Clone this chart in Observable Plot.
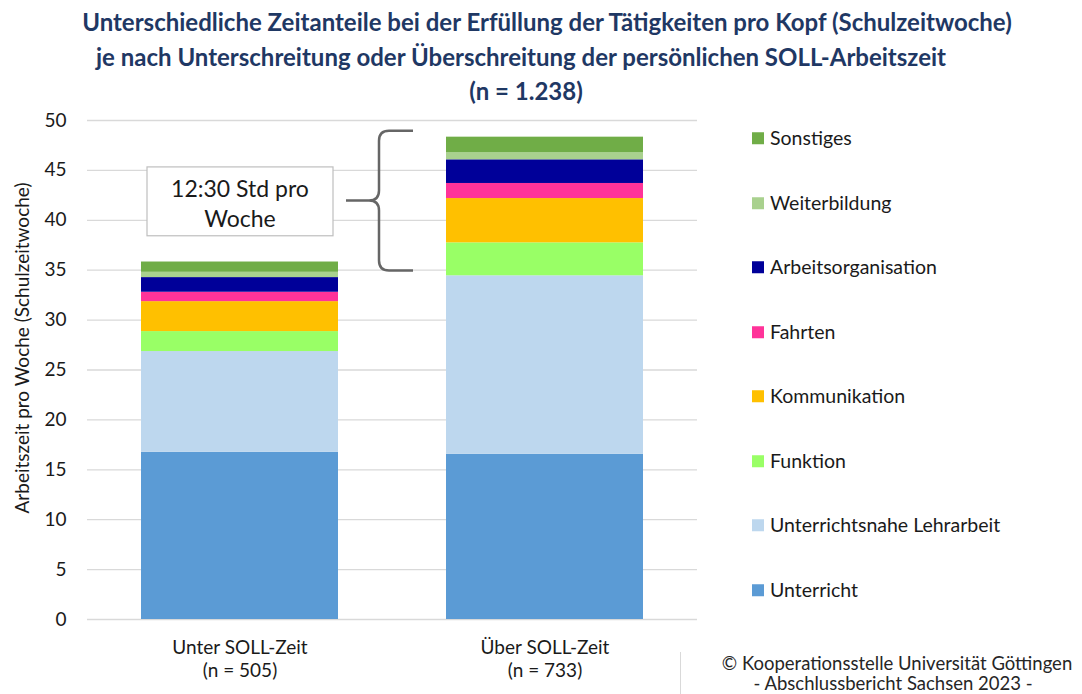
<!DOCTYPE html>
<html>
<head>
<meta charset="utf-8">
<script src="https://cdn.jsdelivr.net/npm/d3@7"></script>
<script src="https://cdn.jsdelivr.net/npm/@observablehq/plot@0.6"></script>
<style>
  html, body { margin: 0; padding: 0; background: #fff; }
  #root { position: relative; width: 1082px; height: 694px; overflow: hidden; font-family: Lato, "Open Sans", sans-serif; color: #1a1a1a; }
  .title { position: absolute; width: 1082px; text-align: center; font-weight: 700; font-size: 24px; color: #1F3864; white-space: nowrap; line-height: 1; }
  #chart { position: absolute; left: 0; top: 108px; }
  .leg { position: absolute; left: 752px; font-size: 19.5px; white-space: nowrap; display: flex; align-items: center; transform: translateY(-50%); line-height: 1; }
  .leg span.sw { display: inline-block; width: 12px; height: 12px; margin-right: 6px; }
  #ylab { position: absolute; left: 21px; top: 348px; transform: translate(-50%, -50%) rotate(-90deg); font-size: 19px; white-space: nowrap; }
  .foot { position: absolute; width: 400px; text-align: center; font-size: 18.5px; white-space: nowrap; color: #262626; line-height: 1; }
  #vline { position: absolute; left: 680px; top: 652px; width: 1px; height: 42px; background: #d9d9d9; }
</style>
</head>
<body>
<div id="root"></div>
<script>
// ---- data ----
const titleLines = [
  "Unterschiedliche Zeitanteile bei der Erfüllung der Tätigkeiten pro Kopf (Schulzeitwoche)",
  "je nach Unterschreitung oder Überschreitung der persönlichen SOLL-Arbeitszeit",
  "(n = 1.238)"
];
const categories = ["Unter SOLL-Zeit", "Über SOLL-Zeit"];
const groupSizes = ["(n = 505)", "(n = 733)"];
const series = ["Unterricht", "Unterrichtsnahe Lehrarbeit", "Funktion", "Kommunikation", "Fahrten", "Arbeitsorganisation", "Weiterbildung", "Sonstiges"];
const unterValues = [16.76, 10.09, 2.0, 3.0, 0.94, 1.47, 0.53, 1.03];
const ueberValues = [16.56, 17.88, 3.3, 4.44, 1.51, 2.37, 0.73, 1.54];
const seriesColors = ["#5B9BD5", "#BDD7EE", "#99FF66", "#FFC000", "#FF3399", "#000099", "#A9D18E", "#70AD47"];
const yTicks = [0, 5, 10, 15, 20, 25, 30, 35, 40, 45, 50];
const yLabel = "Arbeitszeit pro Woche (Schulzeitwoche)";
const annotationLines = ["12:30 Std pro", "Woche"];
const footerLines = ["© Kooperationsstelle Universität Göttingen", "- Abschlussbericht Sachsen 2023 -"];

// ---- build ----
const rows = [];
series.forEach((s, i) => {
  rows.push({category: categories[0], series: s, value: unterValues[i]});
  rows.push({category: categories[1], series: s, value: ueberValues[i]});
});
const totals = [d3.sum(unterValues), d3.sum(ueberValues)];

const root = document.getElementById("root");

// title
const titleTops = [10, 45, 79];
const titleCenters = [547, 521, 526];
titleLines.forEach((t, i) => {
  const d = document.createElement("div");
  d.className = "title";
  d.style.top = titleTops[i] + "px";
  d.style.left = (titleCenters[i] - 541) + "px";
  d.textContent = t;
  root.appendChild(d);
});

// annotation (brace + box) drawn from scales
function annotation(index, scales, values, dimensions) {
  const x = scales.x, y = scales.y;
  const x0 = x(categories[0]), x1 = x(categories[1]);
  const step = x1 - x0;
  let bw = x.bandwidth;
  if (typeof bw === "function") bw = bw();
  if (!(typeof bw === "number" && isFinite(bw) && bw > 0)) bw = step * 0.646;
  const g = d3.create("svg:g");
  // brace
  const bx = x0 + bw + 41;
  const armEnd = x1 - 33;
  const yTop = y(totals[1]) - 6;
  const yBot = y(totals[0]) + 9;
  const yMid = (yTop + yBot) / 2;
  const tip = bx - 33;
  const r = 10;
  const path = `M${armEnd},${yTop} H${bx + r} Q${bx},${yTop} ${bx},${yTop + r} V${yMid - r} Q${bx},${yMid} ${bx - r},${yMid} H${tip} M${bx - r},${yMid} Q${bx},${yMid} ${bx},${yMid + r} V${yBot - r} Q${bx},${yBot} ${bx + r},${yBot} H${armEnd}`;
  g.append("path").attr("d", path).attr("fill", "none").attr("stroke", "#666").attr("stroke-width", 2.5);
  // box
  const boxL = x0 + 6, boxR = x0 + 192;
  const boxT = y(45.3), boxB = y(38.4);
  g.append("rect").attr("x", boxL).attr("y", boxT).attr("width", boxR - boxL).attr("height", boxB - boxT)
    .attr("fill", "#fff").attr("stroke", "#bfbfbf").attr("stroke-width", 1.2);
  const cx = (boxL + boxR) / 2;
  annotationLines.forEach((t, i) => {
    g.append("text").attr("x", cx).attr("y", boxT + 24 + i * 30)
      .attr("text-anchor", "middle").attr("dominant-baseline", "middle")
      .attr("font-size", 23).attr("fill", "#1a1a1a").text(t);
  });
  return g.node();
}

const chart = Plot.plot({
  width: 1082,
  height: 586,
  marginTop: 12,
  marginBottom: 75,
  marginLeft: 87,
  marginRight: 385,
  style: {fontFamily: "Lato, 'Open Sans', sans-serif", fontSize: "19px", color: "#1a1a1a", background: "transparent"},
  x: {domain: categories, paddingInner: 0.354, paddingOuter: 0.177, axis: null},
  y: {domain: [0, 50], axis: null},
  color: {domain: series, range: seriesColors},
  marks: [
    Plot.gridY(yTicks, {stroke: "#d9d9d9", strokeOpacity: 1, strokeWidth: 1.3}),
    Plot.axisY(yTicks, {tickSize: 0, tickPadding: 21, fontSize: 19, label: null}),
    Plot.barY(rows, {x: "category", y: "value", fill: "series", order: series}),
    Plot.text(categories, {x: d => d, y: () => 0, text: (d, i) => d + "\n" + groupSizes[i], lineAnchor: "top", dy: 17, lineHeight: 1.26, fontSize: 19, fill: "#1a1a1a"}),
    annotation
  ]
});
chart.id = "chart";
root.appendChild(chart);

// y label
const yl = document.createElement("div");
yl.id = "ylab";
yl.textContent = yLabel;
root.appendChild(yl);

// legend
const legTops = [138, 203, 267, 332, 396, 461, 525, 590];
series.slice().reverse().forEach((s, i) => {
  const d = document.createElement("div");
  d.className = "leg";
  d.style.top = legTops[i] + "px";
  const sw = document.createElement("span");
  sw.className = "sw";
  sw.style.background = seriesColors[series.indexOf(s)];
  d.appendChild(sw);
  d.appendChild(document.createTextNode(s));
  root.appendChild(d);
});

// footer
const vl = document.createElement("div"); vl.id = "vline"; root.appendChild(vl);
const footTops = [654, 674];
const footCenters = [897, 893];
footerLines.forEach((t, i) => {
  const d = document.createElement("div");
  d.className = "foot";
  d.style.top = footTops[i] + "px";
  d.style.left = (footCenters[i] - 200) + "px";
  d.textContent = t;
  root.appendChild(d);
});
</script>
</body>
</html>
